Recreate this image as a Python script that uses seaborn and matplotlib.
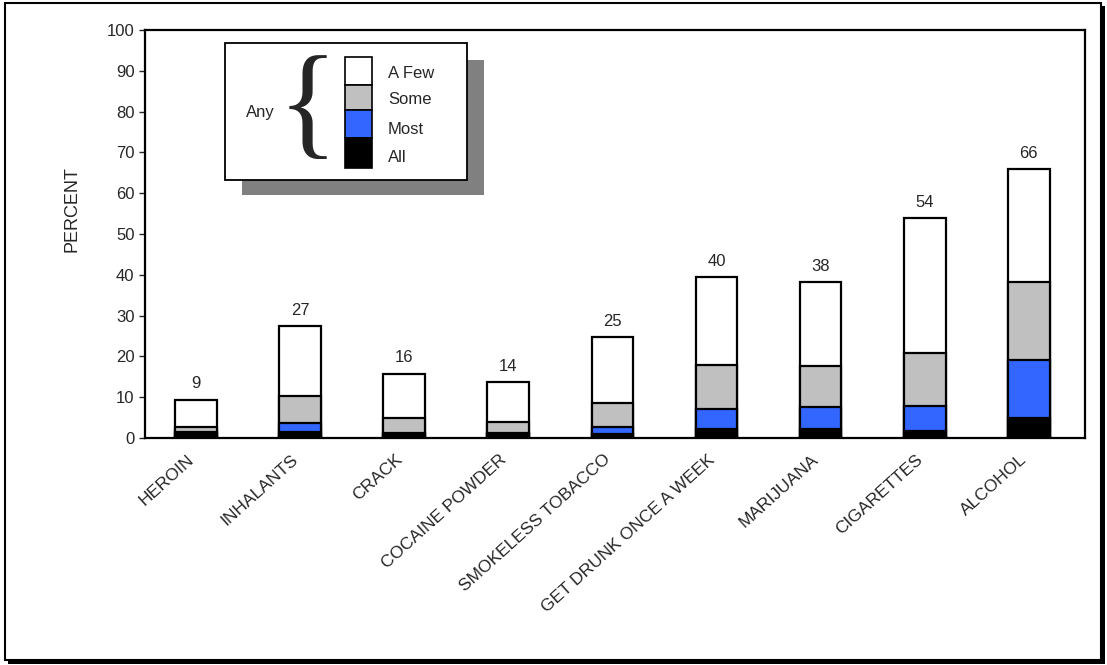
import numpy as np
import pandas as pd
import seaborn as sns
import matplotlib.pyplot as plt
import matplotlib.transforms as mtransforms
from matplotlib.patches import Rectangle

# data (segment heights, percent)
categories = ["HEROIN", "INHALANTS", "CRACK", "COCAINE POWDER", "SMOKELESS TOBACCO",
              "GET DRUNK ONCE A WEEK", "MARIJUANA", "CIGARETTES", "ALCOHOL"]
seg_all = [1.2, 1.4, 0.8, 0.9, 0.9, 2.3, 2.2, 1.6, 5.0]
seg_most = [0.2, 2.3, 0.5, 0.4, 1.9, 4.7, 5.5, 6.3, 14.2]
seg_some = [1.3, 6.7, 3.7, 2.7, 5.8, 11.0, 9.9, 13.0, 19.1]
seg_few = [6.7, 17.1, 10.8, 9.7, 16.2, 21.5, 20.6, 33.1, 27.7]
totals = [9, 27, 16, 14, 25, 40, 38, 54, 66]
levels = ["All", "Most", "Some", "A Few"]
colors = {"All": "#000000", "Most": "#3366ff", "Some": "#c0c0c0", "A Few": "#ffffff"}

sns.set_theme(style="white")
plt.rcParams["font.family"] = ["Liberation Sans", "DejaVu Sans"]

W, H = 1107, 665
fig = plt.figure(figsize=(W / 100, H / 100), dpi=100)


def fx(px):
    return px / W


def fy(py):
    return 1 - py / H


ax = fig.add_axes([fx(145), fy(438), fx(1085) - fx(145), fy(30) - fy(438)])

df = pd.DataFrame({"category": categories, "All": seg_all, "Most": seg_most,
                   "Some": seg_some, "A Few": seg_few})
cum = df[levels].cumsum(axis=1)

# draw tallest (cumulative) first, smaller stacks on top
for lev in reversed(levels):
    sns.barplot(x=df["category"], y=cum[lev], color=colors[lev], saturation=1,
                width=0.4, edgecolor="black", linewidth=1.6, ax=ax)

for i, t in enumerate(totals):
    ax.text(i, cum["A Few"][i] + 2, str(t), ha="center", va="bottom", fontsize=12)

ax.set_ylim(0, 100)
ax.set_xlim(-0.49, 8.54)
ax.set_yticks(range(0, 101, 10))
ax.tick_params(axis="y", labelsize=12, length=4, width=1, direction="out", left=True)
ax.tick_params(axis="x", length=0, pad=10)
ax.set_xticks(range(len(categories)))
ax.set_xticklabels(categories, rotation=42, ha="right", rotation_mode="anchor", fontsize=12.5)
shift = mtransforms.ScaledTranslation(-0.09, 0, fig.dpi_scale_trans)
for lbl in ax.get_xticklabels():
    lbl.set_transform(lbl.get_transform() + shift)
ax.set_xlabel("")
ax.set_ylabel("PERCENT", fontsize=13)
ax.yaxis.set_label_coords(-0.069, 0.56)
for s in ax.spines.values():
    s.set_color("black")
    s.set_linewidth(1.6)

# hand-made legend with drop shadow
fig.patches.append(Rectangle((fx(242), fy(195)), fx(484) - fx(242), fy(60) - fy(195),
                             transform=fig.transFigure, facecolor="#808080", edgecolor="none", zorder=5))
fig.patches.append(Rectangle((fx(225), fy(180)), fx(467) - fx(225), fy(43) - fy(180),
                             transform=fig.transFigure, facecolor="white", edgecolor="black",
                             linewidth=1.3, zorder=6))
sq = [("A Few", 57, 85, 73), ("Some", 85, 110, 100), ("Most", 110, 138, 129), ("All", 138, 168, 157)]
for lab, y0, y1, ty in sq:
    fig.patches.append(Rectangle((fx(345), fy(y1)), fx(372) - fx(345), fy(y0) - fy(y1),
                                 transform=fig.transFigure, facecolor=colors[lab],
                                 edgecolor="black", linewidth=1.2, zorder=7))
    fig.text(fx(388), fy(ty), lab, fontsize=12, va="center", ha="left", zorder=8)
fig.text(fx(246), fy(112), "Any", fontsize=12, va="center", ha="left", zorder=8)
fig.text(fx(308), fy(112), "{", fontsize=90, va="center", ha="center", zorder=8,
         family=["Liberation Serif", "DejaVu Serif"])

# outer frame with heavier right/bottom edge
fig.patches.append(Rectangle((fx(5), fy(660)), fx(1101) - fx(5), fy(3) - fy(660),
                             transform=fig.transFigure, facecolor="none", edgecolor="black",
                             linewidth=1.5, zorder=1))
fig.patches.append(Rectangle((fx(8), fy(664)), fx(1105) - fx(8), fy(660) - fy(664),
                             transform=fig.transFigure, facecolor="black", edgecolor="none", zorder=1))
fig.patches.append(Rectangle((fx(1101), fy(664)), fx(1105) - fx(1101), fy(6) - fy(664),
                             transform=fig.transFigure, facecolor="black", edgecolor="none", zorder=1))

fig.savefig("out.png", dpi=100)
